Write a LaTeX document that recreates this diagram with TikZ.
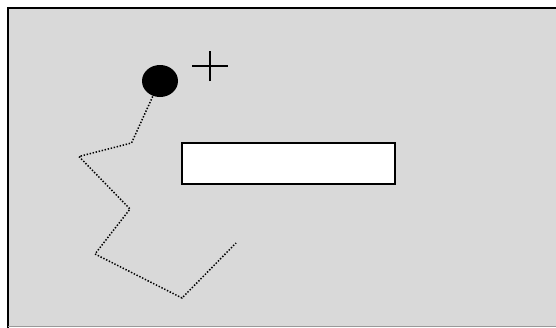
\documentclass[tikz,border=0pt]{standalone}
\usetikzlibrary{shapes.geometric}
\definecolor{panelgray}{RGB}{217,217,217}
\tikzset{
  blob/.style={ellipse,fill=black,minimum width=36pt,minimum height=32pt,inner sep=0pt},
  slot/.style={draw=black,line width=1.6pt,fill=white,minimum width=213pt,minimum height=41pt,inner sep=0pt},
  trail/.style={line width=1.5pt,dash pattern=on 1.4pt off 1.7pt}
}
\begin{document}
\begin{tikzpicture}[x=1pt,y=-1pt,line width=0.8pt]
\useasboundingbox (0,0) rectangle (556,327);
% ---------- 背景面板 ----------
\begin{scope}
\clip (0,0) rectangle (556,327);
\fill[panelgray] (8,8) rectangle (570,326);
\draw[line width=2.2pt] (8,330) -- (8,8) -- (570,8);
\draw[line width=1pt,black!40] (8,326) -- (570,326);
\end{scope}
% ---------- 黑点与十字 ----------
\node[blob] (dot) at (160,81) {};
\coordinate (plusc) at (210,66);
\draw[line width=1.2pt] ([xshift=-18pt]plusc) -- ([xshift=18pt]plusc);
\draw[line width=1.2pt] ([yshift=-15pt]plusc) -- ([yshift=15pt]plusc);
% ---------- 白色矩形 ----------
\node[slot] (box) at (288.5,163.5) {};
% ---------- 虚线轨迹 ----------
\coordinate (p1) at (131.5,143);
\coordinate (p2) at (79,156.5);
\coordinate (p3) at (130,209);
\coordinate (p4) at (95,254);
\coordinate (p5) at (182,298);
\coordinate (p6) at (236,243);
\draw[trail] (dot.south west) ++(7pt,-1pt) -- (p1) -- (p2) -- (p3) -- (p4) -- (p5) -- (p6);
\end{tikzpicture}
\end{document}
